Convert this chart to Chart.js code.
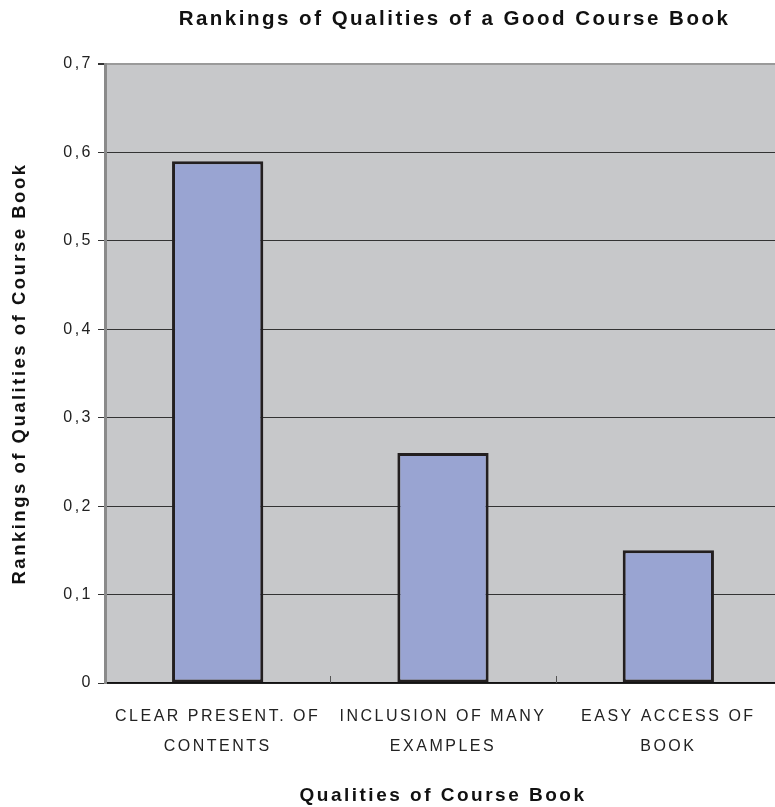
<!DOCTYPE html>
<html>
<head>
<meta charset="utf-8">
<script src="https://cdn.jsdelivr.net/npm/chart.js@4/dist/chart.umd.min.js"></script>
<style>
  html, body { margin: 0; padding: 0; background: #ffffff; overflow: hidden; }
  #wrap { width: 781px; height: 807px; }
</style>
</head>
<body>
<div id="wrap"><canvas id="chart"></canvas></div>
<script>
// Categories (multi-line labels) and the ranking value for each quality
const categories = [
  ['CLEAR PRESENT. OF', 'CONTENTS'],
  ['INCLUSION OF MANY', 'EXAMPLES'],
  ['EASY ACCESS OF', 'BOOK']
];
const rankings = [0.59, 0.26, 0.15];
const yTickValues = [0, 0.1, 0.2, 0.3, 0.4, 0.5, 0.6, 0.7];

const chartTitle = 'Rankings of Qualities of a Good Course Book';
const xTitle = 'Qualities of Course Book';
const yTitle = 'Rankings of Qualities of Course Book';

const FONT = '"Liberation Sans", Arial, Helvetica, sans-serif';
const LETTER_SPACING = '2.5px';

// Wide-tracked lettering for every text on the canvas
const tracking = {
  id: 'tracking',
  beforeLayout(chart) { chart.ctx.letterSpacing = LETTER_SPACING; },
  beforeDraw(chart) { chart.ctx.letterSpacing = LETTER_SPACING; }
};

// Centre the main title a little right of the canvas middle, over the plot
const titleOffset = {
  id: 'titleOffset',
  afterLayout(chart) {
    if (chart.titleBlock) chart.titleBlock.left = 128;
  }
};

// Grey plot background behind the bars
const plotBackground = {
  id: 'plotBackground',
  beforeDraw(chart) {
    const { ctx, chartArea: a } = chart;
    ctx.save();
    ctx.fillStyle = '#c7c8ca';
    ctx.fillRect(a.left, a.top, a.right - a.left, a.bottom - a.top);
    ctx.restore();
  }
};

// Short inward tick marks between categories on the category axis
const categoryDividers = {
  id: 'categoryDividers',
  afterDatasetsDraw(chart) {
    const { ctx } = chart;
    const x = chart.scales.x;
    const bottom = chart.chartArea.bottom;
    ctx.save();
    ctx.strokeStyle = '#555555';
    ctx.lineWidth = 1;
    for (let i = 1; i < categories.length; i++) {
      const px = Math.round((x.getPixelForValue(i - 1) + x.getPixelForValue(i)) / 2) + 0.5;
      ctx.beginPath();
      ctx.moveTo(px, bottom);
      ctx.lineTo(px, bottom - 7);
      ctx.stroke();
    }
    ctx.restore();
  }
};

new Chart(document.getElementById('chart'), {
  type: 'bar',
  data: {
    labels: categories,
    datasets: [{
      data: rankings,
      backgroundColor: '#99a4d2',
      borderColor: '#231f20',
      borderWidth: 3,
      borderSkipped: false,
      barPercentage: 1,
      categoryPercentage: 0.405
    }]
  },
  options: {
    responsive: true,
    maintainAspectRatio: false,
    animation: false,
    layout: { padding: { left: 0, right: 0, top: 0, bottom: 0 } },
    plugins: {
      legend: { display: false },
      tooltip: { enabled: false },
      title: {
        display: true,
        text: chartTitle,
        color: '#111111',
        font: { family: FONT, size: 20.5, weight: 'bold' },
        padding: { top: 7, bottom: 32.4 }
      }
    },
    scales: {
      x: {
        offset: true,
        grid: { display: false, drawTicks: false },
        border: { display: true, color: '#111111', width: 1.5 },
        ticks: {
          color: '#222222',
          font: { family: FONT, size: 16, lineHeight: 1.85 },
          padding: 19,
          maxRotation: 0,
          autoSkip: false
        },
        title: {
          display: true,
          text: xTitle,
          color: '#111111',
          font: { family: FONT, size: 19, weight: 'bold' },
          padding: { top: 0, bottom: 0 }
        },
        afterFit(scale) { scale.height = 124; }
      },
      y: {
        min: 0,
        max: 0.7,
        afterBuildTicks(scale) { scale.ticks = yTickValues.map(v => ({ value: v })); },
        grid: {
          color: ctx => (ctx.tick && Math.abs(ctx.tick.value - 0.7) < 1e-9) ? '#9a9a9a' : '#333333',
          lineWidth: ctx => (ctx.tick && Math.abs(ctx.tick.value - 0.7) < 1e-9) ? 2 : 1,
          tickLength: 7,
          tickColor: '#333333'
        },
        border: { display: true, color: '#8a8a8a', width: 3 },
        ticks: {
          color: '#222222',
          font: { family: FONT, size: 16 },
          padding: 5,
          callback: v => (v === 0 ? '0' : v.toFixed(1).replace('.', ','))
        },
        title: {
          display: true,
          text: yTitle,
          color: '#111111',
          font: { family: FONT, size: 18.5, weight: 'bold' },
          padding: { top: 9, bottom: 0 }
        },
        afterFit(scale) { scale.width = 105; }
      }
    }
  },
  plugins: [tracking, titleOffset, plotBackground, categoryDividers]
});
</script>
</body>
</html>
